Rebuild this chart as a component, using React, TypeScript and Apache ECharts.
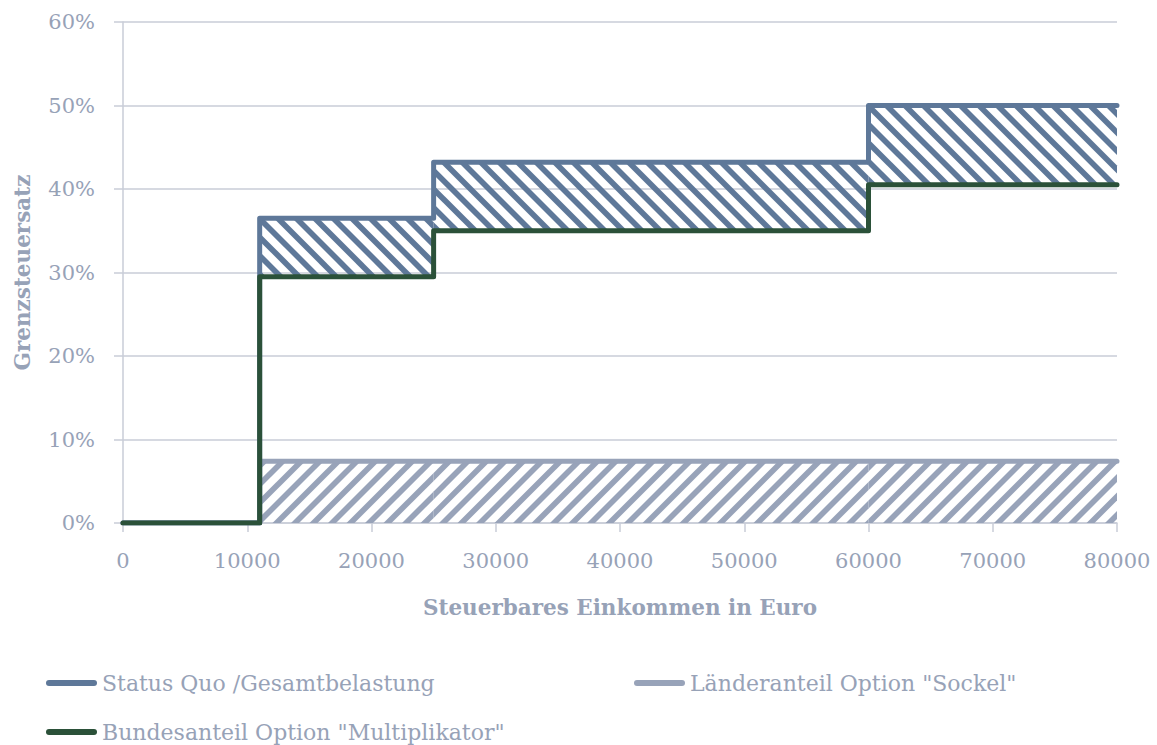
import React, { useEffect, useRef } from "react";
import * as echarts from "echarts";

// ---- data ----
const incomeBreaks = [0, 11000, 25000, 60000, 80000];
const statusQuoRates = [0, 0.365, 0.432, 0.5];
const bundRates = [0, 0.295, 0.35, 0.405];
const laenderRates = [0, 0.074, 0.074, 0.074];
const seriesNames = [
  "Status Quo /Gesamtbelastung",
  'Länderanteil Option "Sockel"',
  'Bundesanteil Option "Multiplikator"',
];
const xAxisName = "Steuerbares Einkommen in Euro";
const yAxisName = "Grenzsteuersatz";

// ---- style ----
const FONT = "DejaVu Serif";
const TEXT_COLOR = "#97a2b7";
const STATUS_COLOR = "#5e7899";
const LAENDER_COLOR = "#98a3b9";
const BUND_COLOR = "#2b5139";
const GRID_COLOR = "#c8ccd7";

function stepPoints(rates: number[]) {
  const pts: number[][] = [];
  rates.forEach((r, i) => {
    pts.push([incomeBreaks[i], r]);
    pts.push([incomeBreaks[i + 1], r]);
  });
  return pts;
}

function hatchRects(lower: number[], upper: number[]) {
  const out: number[][] = [];
  for (let i = 0; i < upper.length; i++) {
    if (upper[i] - lower[i] > 0.0001) {
      out.push([incomeBreaks[i], incomeBreaks[i + 1], lower[i], upper[i]]);
    }
  }
  return out;
}

function clipX(pts: number[][], xmin: number, xmax: number) {
  const clip = (poly: number[][], inside: (p: number[]) => boolean, bound: number) => {
    const res: number[][] = [];
    for (let i = 0; i < poly.length; i++) {
      const a = poly[i];
      const b = poly[(i + 1) % poly.length];
      const ia = inside(a);
      const ib = inside(b);
      if (ia) res.push(a);
      if (ia !== ib) {
        const t = (bound - a[0]) / (b[0] - a[0]);
        res.push([bound, a[1] + t * (b[1] - a[1])]);
      }
    }
    return res;
  };
  let p = clip(pts, (q) => q[0] >= xmin, xmin);
  if (p.length) p = clip(p, (q) => q[0] <= xmax, xmax);
  return p;
}

function makeHatch(color: string, dir: "back" | "fwd") {
  const period = 18.5;
  const thick = 8;
  return (params: any, api: any) => {
    const p0 = api.coord([api.value(0), api.value(3)]);
    const p1 = api.coord([api.value(1), api.value(2)]);
    const x0 = p0[0], y0 = p0[1], x1 = p1[0], y1 = p1[1];
    const children: any[] = [];
    if (dir === "back") {
      const kmin = Math.floor((x0 - y1 - thick) / period) - 1;
      const kmax = Math.ceil((x1 - y0) / period) + 1;
      for (let k = kmin; k <= kmax; k++) {
        const c = k * period;
        const poly = [
          [y0 + c, y0],
          [y1 + c, y1],
          [y1 + c + thick, y1],
          [y0 + c + thick, y0],
        ];
        const cl = clipX(poly, x0, x1);
        if (cl.length >= 3)
          children.push({ type: "polygon", shape: { points: cl }, style: { fill: color } });
      }
    } else {
      const kmin = Math.floor((x0 + y0 - thick) / period) - 1;
      const kmax = Math.ceil((x1 + y1) / period) + 1;
      for (let k = kmin; k <= kmax; k++) {
        const c = k * period;
        const poly = [
          [c - y0, y0],
          [c - y1, y1],
          [c - y1 + thick, y1],
          [c - y0 + thick, y0],
        ];
        const cl = clipX(poly, x0, x1);
        if (cl.length >= 3)
          children.push({ type: "polygon", shape: { points: cl }, style: { fill: color } });
      }
    }
    return { type: "group", children };
  };
}

const legendIcon = "path://M3,0L48,0A3,3,0,0,1,48,6L3,6A3,3,0,0,1,3,0Z";

export default function App() {
  const ref = useRef<HTMLDivElement>(null);
  useEffect(() => {
    if (!ref.current) return;
    const chart = echarts.init(ref.current, null, { renderer: "svg" });
    const legendBase = {
      orient: "horizontal",
      icon: legendIcon,
      itemWidth: 51,
      itemHeight: 6,
      padding: 0,
      selectedMode: false,
      textStyle: { fontFamily: FONT, fontSize: 22, color: TEXT_COLOR },
    };
    chart.setOption({
      animation: false,
      backgroundColor: "#ffffff",
      grid: { left: 123, right: 40, top: 22, bottom: 222, containLabel: false },
      legend: [
        { ...legendBase, data: [seriesNames[0]], left: 46, top: 672 },
        { ...legendBase, data: [seriesNames[1]], left: 634, top: 672 },
        { ...legendBase, data: [seriesNames[2]], left: 46, top: 721 },
      ],
      xAxis: {
        type: "value",
        min: 0,
        max: 80000,
        interval: 10000,
        name: xAxisName,
        nameLocation: "middle",
        nameGap: 73,
        nameTextStyle: { fontFamily: FONT, fontSize: 21.5, fontWeight: "bold", color: TEXT_COLOR },
        axisLine: { show: true, lineStyle: { color: GRID_COLOR, width: 1.5 } },
        axisTick: { show: true, length: 9, lineStyle: { color: GRID_COLOR, width: 1.5 } },
        axisLabel: {
          fontFamily: FONT,
          fontSize: 21,
          color: TEXT_COLOR,
          margin: 27,
          formatter: (v: number) => String(v),
        },
        splitLine: { show: false },
      },
      yAxis: {
        type: "value",
        min: 0,
        max: 0.6,
        interval: 0.1,
        name: yAxisName,
        nameLocation: "middle",
        nameGap: 90,
        nameTextStyle: { fontFamily: FONT, fontSize: 21.5, fontWeight: "bold", color: TEXT_COLOR },
        axisLine: { show: true, lineStyle: { color: GRID_COLOR, width: 1.5 } },
        axisTick: { show: true, length: 9, lineStyle: { color: GRID_COLOR, width: 1.5 } },
        axisLabel: {
          fontFamily: FONT,
          fontSize: 21,
          color: TEXT_COLOR,
          margin: 28,
          formatter: (v: number) => Math.round(v * 100) + "%",
        },
        splitLine: { show: true, lineStyle: { color: GRID_COLOR, width: 1.5 } },
      },
      series: [
        {
          type: "custom",
          name: "hatch-laender",
          renderItem: makeHatch(LAENDER_COLOR, "fwd"),
          data: hatchRects([0, 0, 0, 0], laenderRates),
          encode: { x: [0, 1], y: [2, 3] },
          z: 1,
          silent: true,
        },
        {
          type: "custom",
          name: "hatch-status",
          renderItem: makeHatch(STATUS_COLOR, "back"),
          data: hatchRects(bundRates, statusQuoRates),
          encode: { x: [0, 1], y: [2, 3] },
          z: 1,
          silent: true,
        },
        {
          type: "line",
          name: seriesNames[1],
          data: stepPoints(laenderRates),
          symbol: "none",
          showSymbol: false,
          color: LAENDER_COLOR,
          lineStyle: { color: LAENDER_COLOR, width: 5, cap: "round", join: "round" },
          z: 3,
        },
        {
          type: "line",
          name: seriesNames[0],
          data: stepPoints(statusQuoRates),
          symbol: "none",
          showSymbol: false,
          color: STATUS_COLOR,
          lineStyle: { color: STATUS_COLOR, width: 5, cap: "round", join: "round" },
          z: 4,
        },
        {
          type: "line",
          name: seriesNames[2],
          data: stepPoints(bundRates),
          symbol: "none",
          showSymbol: false,
          color: BUND_COLOR,
          lineStyle: { color: BUND_COLOR, width: 5, cap: "round", join: "round" },
          z: 5,
        },
      ],
    });
    return () => chart.dispose();
  }, []);
  return (
    <div
      ref={ref}
      style={{ position: "absolute", left: 0, top: 0, width: 1157, height: 745 }}
    />
  );
}
